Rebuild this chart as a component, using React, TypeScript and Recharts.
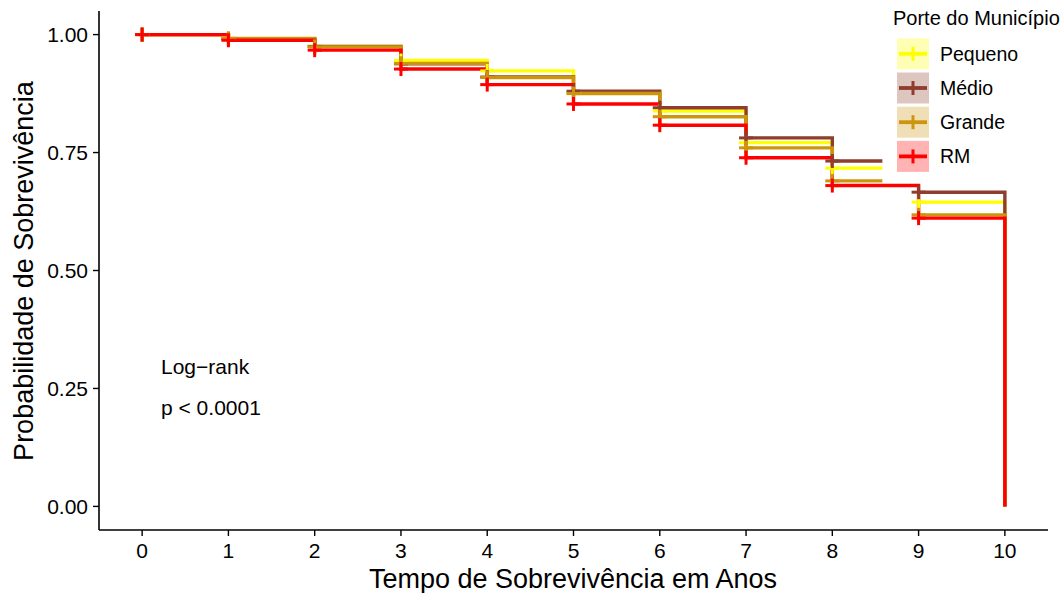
import { ComposedChart, Line, Scatter, XAxis, YAxis, Customized } from 'recharts';

// Kaplan-Meier survival by municipality size
const years = [0, 1, 2, 3, 4, 5, 6, 7, 8, 9];
const endYear = 10;
const pequeno = [1.0, 0.991, 0.975, 0.945, 0.923, 0.877, 0.838, 0.771, 0.717, 0.645];
const medio = [1.0, 0.991, 0.975, 0.938, 0.91, 0.88, 0.845, 0.781, 0.732, 0.666];
const grande = [1.0, 0.992, 0.974, 0.939, 0.909, 0.875, 0.826, 0.76, 0.69, 0.618];
const rm = [1.0, 0.988, 0.967, 0.927, 0.894, 0.853, 0.808, 0.739, 0.68, 0.611];
// last observed time inside year 8 (curve stops there until year 9)
const cutYear8 = [8.58, 8.58, 8.58, null];

const seriesNames = ['Pequeno', 'Médio', 'Grande', 'RM'];
const seriesValues = [pequeno, medio, grande, rm];
const lineColors = ['#FFFF00', '#8E3D2E', '#CD950C', '#FF0000'];
const keyFills = ['#FFFFB3', '#DDC5C0', '#F0DFB6', '#FFB3B3'];

const xTicks = [0, 1, 2, 3, 4, 5, 6, 7, 8, 9, 10];
const yTicks = [0, 0.25, 0.5, 0.75, 1];

const FONT = '"Liberation Sans", Arial, Helvetica, sans-serif';

type Pt = { t: number; s: number | null };

function buildSteps(values: number[], cut: number | null): Pt[] {
  const pts: Pt[] = [];
  values.forEach((s, i) => {
    pts.push({ t: years[i], s });
    if (cut !== null && years[i] === 8) {
      pts.push({ t: cut, s });
      pts.push({ t: (cut + years[i + 1]) / 2, s: null });
    }
  });
  pts.push({ t: endYear, s: values[values.length - 1] });
  pts.push({ t: endYear, s: 0 });
  return pts;
}

function censorPoints(values: number[]): Pt[] {
  return years.map((t, i) => ({ t, s: values[i] }));
}

const makeCross = (color: string) => (props: any) => {
  const { cx, cy } = props;
  if (cx == null || cy == null) return <g />;
  return (
    <g>
      <line x1={cx - 7} x2={cx + 7} y1={cy} y2={cy} stroke={color} strokeWidth={3} />
      <line x1={cx} x2={cx} y1={cy - 7} y2={cy + 7} stroke={color} strokeWidth={3} />
    </g>
  );
};

function Annotations() {
  return (
    <g style={{ fontFamily: FONT }}>
      <text x={161} y={374} fontSize={21} fill="#000">
        Log−rank
      </text>
      <text x={161} y={415} fontSize={21} fill="#000">
        p &lt; 0.0001
      </text>
      <text x={573} y={588} fontSize={27} fill="#000" textAnchor="middle">
        Tempo de Sobrevivência em Anos
      </text>
      <text
        x={33}
        y={271}
        fontSize={27}
        fill="#000"
        textAnchor="middle"
        transform="rotate(-90, 33, 271)"
      >
        Probabilidade de Sobrevivência
      </text>
      <text x={893} y={25} fontSize={20} fill="#000">
        Porte do Município
      </text>
      {seriesNames.map((name, k) => {
        const top = 38.3 + k * 34.2;
        const cy = top + 15.5;
        return (
          <g key={name}>
            <rect x={897} y={top} width={32} height={31} fill={keyFills[k]} />
            <line x1={899} x2={927} y1={cy} y2={cy} stroke={lineColors[k]} strokeWidth={3.8} />
            <line x1={913} x2={913} y1={cy - 7} y2={cy + 7} stroke={lineColors[k]} strokeWidth={3} />
            <text x={940} y={cy + 7} fontSize={19.5} fill="#000">
              {name}
            </text>
          </g>
        );
      })}
    </g>
  );
}

export default function App() {
  return (
    <div style={{ position: 'absolute', left: 0, top: 0, width: 1062, height: 593, background: '#fff' }}>
      <ComposedChart width={1062} height={593} margin={{ top: 11, right: 14, bottom: 0, left: 0 }}>
        <XAxis
          dataKey="t"
          type="number"
          domain={[-0.5, 10.5]}
          ticks={xTicks}
          interval={0}
          allowDuplicatedCategory={false}
          height={63}
          tickSize={6}
          tickMargin={7}
          axisLine={{ stroke: '#000', strokeWidth: 1.6 }}
          tickLine={{ stroke: '#000', strokeWidth: 1.4 }}
          tick={{ fill: '#000', fontSize: 21, fontFamily: FONT }}
        />
        <YAxis
          dataKey="s"
          type="number"
          domain={[-0.05, 1.05]}
          ticks={yTicks}
          interval={0}
          width={99}
          tickSize={6}
          tickMargin={5}
          tickFormatter={(v: number) => v.toFixed(2)}
          axisLine={{ stroke: '#000', strokeWidth: 1.6 }}
          tickLine={{ stroke: '#000', strokeWidth: 1.4 }}
          tick={{ fill: '#000', fontSize: 21, fontFamily: FONT }}
        />
        {seriesValues.map((vals, k) => (
          <Line
            key={'line-' + seriesNames[k]}
            data={buildSteps(vals, cutYear8[k])}
            dataKey="s"
            type="stepAfter"
            stroke={lineColors[k]}
            strokeWidth={3.4}
            dot={false}
            activeDot={false}
            connectNulls={false}
            isAnimationActive={false}
          />
        ))}
        {seriesValues.map((vals, k) => (
          <Scatter
            key={'cens-' + seriesNames[k]}
            data={censorPoints(vals)}
            dataKey="s"
            shape={makeCross(lineColors[k])}
            isAnimationActive={false}
          />
        ))}
        <Customized component={Annotations} />
      </ComposedChart>
    </div>
  );
}
